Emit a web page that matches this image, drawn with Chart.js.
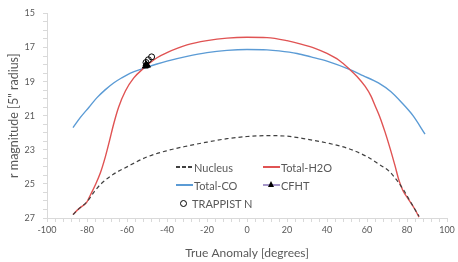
<!DOCTYPE html>
<html lang="en">
<head>
<meta charset="UTF-8">
<title>r magnitude vs true anomaly</title>
<script src="https://cdn.jsdelivr.net/npm/chart.js@4.4.1/dist/chart.umd.min.js"></script>
<style>
    body { margin: 0; background: #fff; }
    .wrap { position: relative; width: 458px; height: 262px; font-family: Lato, sans-serif; }
    .legend { position: absolute; left: 0; top: 0; color: #595959; font-size: 11px; }
    .item { position: absolute; display: flex; align-items: center; white-space: nowrap; height: 14px; }
    .sample { position: relative; width: 17px; height: 14px; margin-right: 1px; }
    .sample .ln { position: absolute; left: 0; right: 0; top: 6px; height: 1.5px; }
    .dash { background: repeating-linear-gradient(to right, #404040 0 4px, transparent 4px 6px); }
    .tri { position: absolute; left: 5px; top: 3px; width: 0; height: 0;
           border-left: 3.5px solid transparent; border-right: 3.5px solid transparent; border-bottom: 6px solid #000; }
    .circ { width: 5px; height: 5px; border: 1px solid #000; border-radius: 50%; margin-right: 5px; }
</style>
</head>
<body>
<div class="wrap">
    <canvas id="chart"></canvas>
    <div class="legend">
        <div class="item" style="left:176px; top:160px;"><span class="sample"><span class="ln dash"></span></span>Nucleus</div>
        <div class="item" style="left:263px; top:160px;"><span class="sample"><span class="ln" style="background:#e05353"></span></span>Total-H2O</div>
        <div class="item" style="left:176px; top:178px;"><span class="sample"><span class="ln" style="background:#5b9bd5"></span></span>Total-CO</div>
        <div class="item" style="left:263px; top:178px;"><span class="sample"><span class="ln" style="background:#a596c8"></span><span class="tri"></span></span>CFHT</div>
        <div class="item" style="left:180px; top:196px;"><span class="circ"></span>TRAPPIST N</div>
    </div>
</div>
<script>
// model curves (true anomaly in degrees, r magnitude)
const nucleusAnomaly = [-87, -84, -80, -76, -73, -67, -60, -50, -40, -30, -20, -10, 0, 10, 20, 30, 40, 50, 60, 66, 71, 75, 78, 81, 84, 86];
const nucleusMag = [26.8, 26.45, 26.05, 25.4, 25.0, 24.45, 24.0, 23.42, 23.05, 22.78, 22.55, 22.35, 22.22, 22.17, 22.2, 22.38, 22.6, 22.9, 23.4, 23.85, 24.25, 24.8, 25.3, 25.9, 26.5, 26.9];

const h2oAnomaly = [-87, -84, -80, -78.3, -75.8, -73.3, -70.8, -68.7, -66.7, -64.2, -60.8, -56.7, -51.7, -45, -40, -30, -20, -10, 0, 10, 20, 27, 34, 40, 46, 51.5, 55, 59, 62, 64, 66.5, 69, 71.5, 74, 76, 78, 81, 84, 86];
const h2oMag = [26.8, 26.45, 26.05, 25.65, 25.05, 24.35, 23.4, 22.45, 21.5, 20.5, 19.55, 18.8, 18.22, 17.6, 17.3, 16.85, 16.6, 16.45, 16.4, 16.42, 16.6, 16.8, 17.05, 17.35, 17.75, 18.3, 18.7, 19.27, 19.85, 20.4, 21.1, 21.95, 22.9, 23.93, 24.8, 25.4, 25.95, 26.5, 26.95];

const coAnomaly = [-87, -83.3, -79, -75, -70.8, -66.7, -62.5, -58.3, -51.7, -45, -40, -30, -20, -10, 0, 10, 16, 25, 32, 40, 51.5, 58, 65.7, 72, 77.3, 83, 89];
const coMag = [21.7, 21.1, 20.5, 19.94, 19.47, 19.08, 18.77, 18.5, 18.22, 17.97, 17.8, 17.52, 17.3, 17.17, 17.12, 17.14, 17.2, 17.35, 17.55, 17.8, 18.3, 18.65, 19.08, 19.6, 20.23, 21.0, 22.08];

// observations
const cfhtAnomaly = [-50.5, -49.8, -50.8];
const cfhtMag = [17.98, 18.05, 18.1];
const trappistAnomaly = [-47.7, -49.3, -50.5];
const trappistMag = [17.55, 17.72, 17.88];

const xTitle = 'True Anomaly [degrees]';
const yTitle = 'r magnitude [5" radius]';

function pts(xs, ys) {
    return xs.map((x, i) => ({ x: x, y: ys[i] }));
}

const textColor = '#595959';
const axisColor = '#d9d9d9';

new Chart(document.getElementById('chart'), {
    type: 'line',
    data: {
        datasets: [
            {
                label: 'TRAPPIST N',
                data: pts(trappistAnomaly, trappistMag),
                showLine: false,
                pointStyle: 'circle',
                pointRadius: 3,
                pointBorderWidth: 1,
                pointBorderColor: '#000',
                pointBackgroundColor: 'rgba(255,255,255,0)',
                order: 0
            },
            {
                label: 'CFHT',
                data: pts(cfhtAnomaly, cfhtMag),
                showLine: false,
                pointStyle: 'triangle',
                pointRadius: 3.5,
                pointBorderWidth: 1,
                pointBorderColor: '#000',
                pointBackgroundColor: '#000',
                order: 0
            },
            {
                label: 'Nucleus',
                data: pts(nucleusAnomaly, nucleusMag),
                borderColor: '#404040',
                borderWidth: 1.2,
                borderDash: [4, 3],
                pointRadius: 0,
                cubicInterpolationMode: 'monotone',
                order: 1
            },
            {
                label: 'Total-H2O',
                data: pts(h2oAnomaly, h2oMag),
                borderColor: '#e05353',
                borderWidth: 1.4,
                pointRadius: 0,
                cubicInterpolationMode: 'monotone',
                order: 2
            },
            {
                label: 'Total-CO',
                data: pts(coAnomaly, coMag),
                borderColor: '#5b9bd5',
                borderWidth: 1.4,
                pointRadius: 0,
                cubicInterpolationMode: 'monotone',
                order: 3
            }
        ]
    },
    options: {
        responsive: true,
        maintainAspectRatio: false,
        animation: false,
        layout: { padding: { top: 9, right: 11, left: 0, bottom: 0 } },
        plugins: {
            legend: { display: false },
            tooltip: { enabled: false }
        },
        scales: {
            x: {
                type: 'linear',
                min: -100,
                max: 100,
                ticks: {
                    stepSize: 4,
                    autoSkip: false,
                    maxTicksLimit: 60,
                    maxRotation: 0,
                    padding: 3,
                    color: textColor,
                    font: { family: 'Lato', size: 9 },
                    callback: v => (v % 20 === 0 ? v : '')
                },
                grid: { drawOnChartArea: false, color: axisColor, tickLength: 4 },
                border: { color: axisColor },
                title: {
                    display: true,
                    text: xTitle,
                    color: textColor,
                    font: { family: 'Lato', size: 12 },
                    padding: { top: 0, bottom: 2 }
                },
                afterFit: s => { s.height = 44; }
            },
            y: {
                reverse: true,
                min: 15,
                max: 27,
                ticks: {
                    stepSize: 0.5,
                    autoSkip: false,
                    maxTicksLimit: 40,
                    padding: 8,
                    color: textColor,
                    font: { family: 'Lato', size: 9 },
                    callback: v => (v % 2 === 1 ? v : '')
                },
                grid: { drawOnChartArea: false, color: axisColor, tickLength: 4 },
                border: { color: axisColor },
                title: {
                    display: true,
                    text: yTitle,
                    color: textColor,
                    font: { family: 'Lato', size: 12.5 },
                    padding: { top: 6, bottom: 0 }
                },
                afterFit: s => { s.width = 47; }
            }
        }
    }
});
</script>
</body>
</html>
